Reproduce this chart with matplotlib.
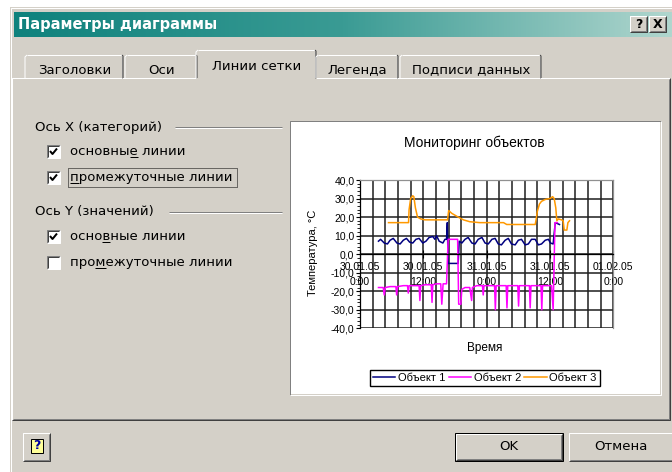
import matplotlib
matplotlib.use('Agg')
import matplotlib.pyplot as plt
from matplotlib.patches import Rectangle
from matplotlib.colors import LinearSegmentedColormap
from matplotlib.font_manager import FontProperties
from matplotlib.ticker import FixedLocator, MultipleLocator
import numpy as np

# ---- chart data (hours from 30.01.05 0:00, temperature in °C) ----
obj1_t = [3.5, 3.9, 4.6, 5.2, 5.7, 6.3, 7.0, 7.6, 8.2, 8.8, 9.4, 10.0, 10.6, 11.2, 11.9,
          12.5, 13.1, 13.8, 14.2, 14.5, 15.0, 15.7, 16.1, 16.4, 16.55, 16.7, 18.6, 18.8,
          19.3, 19.9, 20.5, 21.2, 21.8, 22.4, 23.1, 23.7, 24.3, 25.0, 25.6, 26.2, 26.8,
          27.5, 28.1, 28.7, 29.4, 30.0, 30.6, 31.3, 31.9, 32.5, 33.2, 33.8, 34.4, 35.1,
          35.7, 36.1, 36.6, 37.0, 37.8]
obj1_v = [7, 8, 6, 5.5, 7.5, 8.5, 6, 5.5, 7.5, 8.5, 6.5, 6, 8, 8.5, 6,
          7, 9, 9.5, 8, 10, 7, 6, 8, 8, 17, -5, -5, 7,
          6, 8, 9, 6, 5.5, 8, 9, 6, 5.5, 8, 8.5, 5.5, 5,
          7.5, 8.5, 5.5, 5, 7.5, 8, 5, 5.5, 8, 8, 5, 5.5, 7.5,
          8, 6, 5.5, 17, 16]

obj2_t = [3.5, 4.4, 4.6, 4.8, 5.7, 6.8, 6.95, 7.1, 8.2, 9.0, 9.15, 9.3, 10.4, 11.2, 11.35,
          11.5, 12.3, 13.5, 13.65, 13.8, 14.5, 15.3, 15.5, 15.75, 16.4, 16.7, 17.7, 18.5,
          18.7, 19.1, 19.3, 19.9, 20.8, 21.15, 21.3, 22.1, 23.2, 23.35, 23.5, 24.6, 25.5,
          25.65, 25.8, 26.8, 27.7, 27.85, 28.0, 29.1, 29.9, 30.05, 30.2, 31.3, 32.1, 32.25,
          32.4, 33.5, 34.3, 34.45, 34.6, 35.7, 36.3, 36.6, 36.95, 37.4]
obj2_v = [-18, -18, -22, -18, -17.5, -17.5, -22, -17.5, -17, -17, -21, -17, -17, -17, -25,
          -17, -16.5, -16.5, -26, -16.5, -16, -16, -27, -16, -16, 8, 8, 8,
          -27, -27, -19, -18, -18, -25, -18, -17, -17, -22, -17, -17, -17,
          -30, -17, -17, -17, -29, -17, -17, -17, -28, -17, -17, -17, -29,
          -17, -17, -17, -30, -17, -17, -17, -30, 17, 17]

obj3_t = [5.4, 9.2, 9.3, 9.6, 10.0, 10.2, 10.5, 10.9, 11.5, 12.3, 14.5, 16.6, 16.8, 17.4,
          18.0, 18.6, 19.6, 20.8, 22.7, 27.2, 27.8, 30.9, 33.2, 33.4, 33.6, 34.0, 34.4,
          35.1, 36.0, 36.5, 36.8, 37.1, 37.3, 37.6, 38.2, 38.5, 38.7, 39.2, 39.4, 39.7]
obj3_v = [17, 17, 24, 30, 31.5, 31, 25, 20, 19, 18.5, 18.5, 18.5, 23.5, 22,
          21, 20, 18.5, 17.5, 17, 17, 16, 16, 16, 19, 23, 27, 28.5,
          29.5, 30, 31, 30, 25, 18, 19, 18.5, 18, 13, 13, 17, 18]

series_names = ['Объект 1', 'Объект 2', 'Объект 3']
series_colors = ['#000080', '#ff00ff', '#ff9900']

x_major = [0, 12, 24, 36, 48]
x_labels = ['30.01.05\n0:00', '30.01.05\n12:00', '31.01.05\n0:00', '31.01.05\n12:00', '01.02.05\n0:00']
y_ticks = [-40, -30, -20, -10, 0, 10, 20, 30, 40]
y_labels = ['-40,0', '-30,0', '-20,0', '-10,0', '0,0', '10,0', '20,0', '30,0', '40,0']

tabs = ['Заголовки', 'Оси', 'Линии сетки', 'Легенда', 'Подписи данных']
checks = [('основные линии', True, 7), ('промежуточные линии', True, 0),
          ('основные линии', True, 4), ('промежуточные линии', False, 3)]

# ---- dialog ----
W, H = 672, 472
PX = 0.72
face = '#d4d0c8'
UI = 'DejaVu Sans'
CH = 'Liberation Sans'
UFS = 9.5

fig = plt.figure(figsize=(W / 100, H / 100), dpi=100)
fig.patch.set_facecolor('white')
bg = fig.add_axes([0, 0, 1, 1])
bg.axis('off')


def rect(x, y, w, h, fc, ec='none', lw=0, z=1, **kw):
    bg.add_patch(Rectangle((x, y), w, h, facecolor=fc, edgecolor=ec, linewidth=lw * PX, zorder=z, **kw))


def line(xs, ys, c, lw=1, z=2, **kw):
    bg.plot(xs, ys, color=c, linewidth=lw * PX, zorder=z, solid_capstyle='butt', **kw)


def bevel(x0, y0, x1, y1, raised=True, z=3, dark='#404040'):
    if raised:
        line([x0, x0, x1], [y1, y0, y0], 'white', z=z)
        line([x0, x1, x1], [y1, y1, y0], dark, z=z)
        line([x0 + 1, x1 - 1, x1 - 1], [y1 - 1, y1 - 1, y0 + 1], '#808080', z=z)
    else:
        line([x0, x0, x1], [y1, y0, y0], '#808080', z=z)
        line([x0, x1, x1], [y1, y1, y0], 'white', z=z)


rect(10, 7, W, H, face, z=0)
line([10.5, 10.5, W], [H, 7.5, 7.5], 'white', z=1)

grad = np.linspace(0, 1, 256).reshape(1, -1)
cm = LinearSegmentedColormap.from_list('cap', ['#0f827d', '#3a9b94', '#b0d6ce'])
bg.imshow(grad, extent=(14, W, 37, 12), cmap=cm, aspect='auto', zorder=2)
bg.text(18, 24.5, 'Параметры диаграммы', color='white', fontsize=10.5, fontweight='bold',
        family=UI, va='center', ha='left', zorder=5)
for bx, s in [(630, '?'), (649, 'X')]:
    rect(bx, 16, 17, 16, face, z=3)
    bevel(bx, 16, bx + 17, 32, z=4)
    bg.text(bx + 8.5, 24.5, s, fontsize=9, fontweight='bold', family=UI, ha='center', va='center', zorder=5)

# tab panel
rect(12, 78, 658, 342, face, z=1)
bevel(12, 78, 670, 420, z=3)

tab_edges = [(25, 124), (124, 198), (198, 315), (315, 399), (399, 542)]
for i, (name, (x0, x1)) in enumerate(zip(tabs, tab_edges)):
    sel = (i == 2)
    top = 50 if sel else 55
    if sel:
        x0, x1 = x0 - 2, x1 + 2
    else:
        x0 = x0 + (1 if i > 0 else 0)
    rect(x0, top, x1 - x0, 78 - top + (1 if sel else 0), face, z=4)
    line([x0, x0, x0 + 2], [78 + (1 if sel else 0), top + 2, top], 'white', z=5)
    line([x0 + 2, x1 - 2], [top, top], 'white', z=5)
    line([x1 - 2, x1 - 1, x1 - 1], [top, top + 1, 78], '#404040', z=5)
    line([x1 - 2, x1 - 2], [top + 1, 78], '#808080', z=5)
    ty = 67 if sel else 70
    bg.text((x0 + x1) / 2, ty, name, fontsize=UFS, family=UI, ha='center', va='center', zorder=6)

# group headers
for txt, y, lx in [('Ось X (категорий)', 127, 175), ('Ось Y (значений)', 212, 169)]:
    bg.text(35, y, txt, fontsize=UFS, family=UI, ha='left', va='center', zorder=6)
    line([lx, 282], [y, y], '#808080', z=5)
    line([lx, 282], [y + 1, y + 1], 'white', z=5)

renderer = fig.canvas.get_renderer()
fp = FontProperties(family=UI, size=UFS)


def text_w(s):
    if not s:
        return 0
    w, h, d = renderer.get_text_width_height_descent(s, fp, ismath=False)
    return w


for (txt, on, acc), y in zip(checks, [145, 171, 230, 256]):
    x = 47
    rect(x, y, 13, 13, 'white', z=5)
    line([x, x, x + 13], [y + 13, y, y], '#808080', z=6)
    line([x + 1, x + 1, x + 12], [y + 12, y + 1, y + 1], '#404040', z=6)
    line([x, x + 13, x + 13], [y + 13, y + 13, y], 'white', z=6)
    if on:
        line([x + 3, x + 5.5, x + 10], [y + 6, y + 9, y + 3.5], 'black', lw=2, z=7)
    bg.text(70, y + 6.5, txt, fontsize=UFS, family=UI, ha='left', va='center', zorder=6)
    ux0 = 70 + text_w(txt[:acc])
    ux1 = 70 + text_w(txt[:acc + 1])
    line([ux0, ux1], [y + 12, y + 12], 'black', z=7)

bg.add_patch(Rectangle((67.5, 167.5), 169, 19, fill=False, edgecolor='black', linewidth=PX,
                       linestyle=(0, (1, 1)), zorder=7))

# chart area (sunken white)
rect(290, 121, 370, 273, 'white', z=2)
bevel(289.5, 120.5, 660.5, 394.5, raised=False, z=3)

# bottom buttons
rect(23, 433, 27, 28, face, z=2)
bevel(23, 433, 50, 461, z=3)
rect(30.5, 438.5, 12, 14, '#ffff99', ec='black', lw=1, z=4)
bg.text(36.5, 445.5, '?', fontsize=9, fontweight='bold', color='#0000a0', family=UI,
        ha='center', va='center', zorder=5)
rect(455, 433, 108, 28, face, ec='black', lw=1, z=2)
bevel(456, 434, 562, 460, z=3)
bg.text(509, 447, 'OK', fontsize=UFS, family=UI, ha='center', va='center', zorder=5)
rect(569, 433, 110, 28, face, z=2)
bevel(569, 433, 679, 461, z=3)
bg.text(621, 447, 'Отмена', fontsize=UFS, family=UI, ha='center', va='center', zorder=5)

# chart texts
bg.text(474, 143, 'Мониторинг объектов', fontsize=10, family=CH, ha='center', va='center', zorder=6)
bg.text(313, 253, 'Температура, °C', fontsize=8, family=CH, rotation=90, ha='center', va='center', zorder=6)
bg.text(485, 348, 'Время', fontsize=8.5, family=CH, ha='center', va='center', zorder=6)

bg.set_xlim(0, W)
bg.set_ylim(H, 0)

# ---- the chart itself ----
ax = fig.add_axes([360 / W, 1 - 328.3 / H, 253.3 / W, 148.3 / H])
ax.set_facecolor('white')
# the category axis crosses at 0 (set before the tick labels: it resets the ticks)
ax.spines['bottom'].set_position(('data', 0))

for t, v, c, n in zip([obj1_t, obj2_t, obj3_t], [obj1_v, obj2_v, obj3_v], series_colors, series_names):
    ax.plot(t, v, color=c, linewidth=1.1, label=n)
ax.set_xlim(0, 48)
ax.set_ylim(-40, 40)

ax.xaxis.set_major_locator(FixedLocator(x_major))
ax.set_xticklabels(x_labels, fontsize=7.5, family=CH, linespacing=1.6)
ax.xaxis.set_minor_locator(MultipleLocator(2.4))
ax.set_yticks(y_ticks)
ax.set_yticklabels(y_labels, fontsize=7.5, family=CH)
ax.yaxis.set_minor_locator(MultipleLocator(2))

ax.grid(which='both', axis='x', color='#1e1e1e', linewidth=1.1)
ax.grid(which='major', axis='y', color='#1e1e1e', linewidth=1.1)
ax.set_axisbelow(True)

ax.spines['bottom'].set_color('black')
ax.spines['left'].set_color('black')
ax.spines['top'].set_color('#909090')
ax.spines['right'].set_color('#909090')
for s in ax.spines.values():
    s.set_linewidth(0.9)

ax.tick_params(axis='x', which='major', direction='inout', length=6, width=0.8, pad=3)
ax.tick_params(axis='x', which='minor', length=0)
ax.tick_params(axis='y', which='major', direction='out', length=3, width=0.8, pad=1)
ax.tick_params(axis='y', which='minor', direction='out', length=2, width=0.6)

leg = ax.legend(loc='center', bbox_to_anchor=(0.493, -0.335), ncol=3, frameon=True, fancybox=False,
                edgecolor='black', framealpha=1, borderpad=0.25, handlelength=2.0,
                handletextpad=0.25, columnspacing=0.3, borderaxespad=0,
                prop={'family': CH, 'size': 8})
leg.get_frame().set_linewidth(1.0)

fig.savefig('out.png', dpi=100, facecolor=fig.get_facecolor())
